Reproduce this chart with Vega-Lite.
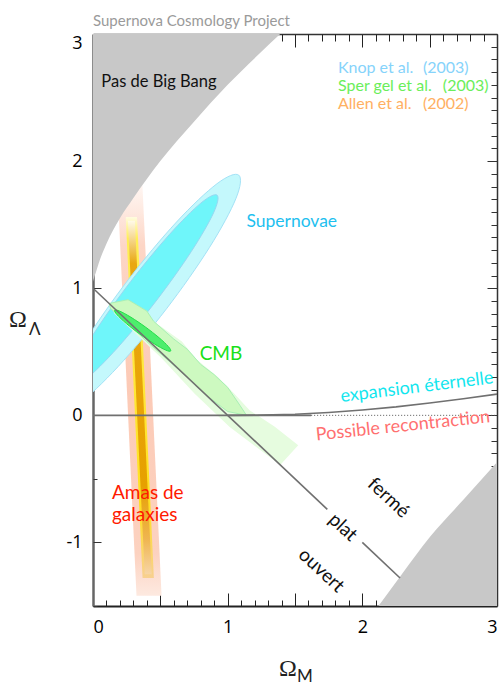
{
  "$schema": "https://vega.github.io/schema/vega-lite/v6.json",
  "width": 404,
  "height": 572,
  "autosize": {"type": "none"},
  "padding": {"left": 93, "top": 34, "right": 4, "bottom": 80},
  "background": "white",
  "title": {"text": "Supernova Cosmology Project", "anchor": "start", "frame": "group", "offset": -7, "baseline": "alphabetic", "fontSize": 15, "fontWeight": "normal", "color": "#9a9a9a", "font": "Lato"},
  "config": {"view": {"stroke": null}, "axis": {"grid": false, "title": null, "labelOverlap": false}},
  "resolve": {"axis": {"x": "independent", "y": "independent"}},
  "datasets": {
    "shapes": [
      {"s": "pink", "i": 0, "x": 0.177, "y": 1.9}, {"s": "pink", "i": 1, "x": 0.363, "y": 1.9}, {"s": "pink", "i": 2, "x": 0.509, "y": -1.42}, {"s": "pink", "i": 3, "x": 0.323, "y": -1.42},
      {"s": "yellow", "i": 0, "x": 0.243, "y": 1.56}, {"s": "yellow", "i": 1, "x": 0.327, "y": 1.56}, {"s": "yellow", "i": 2, "x": 0.452, "y": -1.28}, {"s": "yellow", "i": 3, "x": 0.368, "y": -1.28},
      {"s": "orange", "i": 0, "x": 0.259, "y": 1.53}, {"s": "orange", "i": 1, "x": 0.311, "y": 1.53}, {"s": "orange", "i": 2, "x": 0.436, "y": -1.25}, {"s": "orange", "i": 3, "x": 0.384, "y": -1.25},
      {"s": "nobb", "i": 0, "x": 0, "y": 1.05}, {"s": "nobb", "i": 1, "x": 0.01, "y": 1.09}, {"s": "nobb", "i": 2, "x": 0.02, "y": 1.12}, {"s": "nobb", "i": 3, "x": 0.05, "y": 1.22}, {"s": "nobb", "i": 4, "x": 0.1, "y": 1.35}, {"s": "nobb", "i": 5, "x": 0.2, "y": 1.55}, {"s": "nobb", "i": 6, "x": 0.3, "y": 1.71}, {"s": "nobb", "i": 7, "x": 0.4, "y": 1.86}, {"s": "nobb", "i": 8, "x": 0.5, "y": 2.0}, {"s": "nobb", "i": 9, "x": 0.75, "y": 2.31}, {"s": "nobb", "i": 10, "x": 1.0, "y": 2.6}, {"s": "nobb", "i": 11, "x": 1.25, "y": 2.86}, {"s": "nobb", "i": 12, "x": 1.39, "y": 3.0},
      {"s": "snO", "i": 0, "x": 1.0819, "y": 1.8899}, {"s": "snO", "i": 1, "x": 1.0617, "y": 1.7068}, {"s": "snO", "i": 2, "x": 0.8654, "y": 1.3217}, {"s": "snO", "i": 3, "x": 0.5453, "y": 0.8377}, {"s": "snO", "i": 4, "x": 0.1874, "y": 0.3845}, {"s": "snO", "i": 5, "x": -0.1125, "y": 0.0838}, {"s": "snO", "i": 6, "x": -0.2741, "y": 0.0157}, {"s": "snO", "i": 7, "x": -0.2539, "y": 0.1988}, {"s": "snO", "i": 8, "x": -0.0576, "y": 0.5839}, {"s": "snO", "i": 9, "x": 0.2625, "y": 1.0679}, {"s": "snO", "i": 10, "x": 0.6204, "y": 1.5211}, {"s": "snO", "i": 11, "x": 0.9203, "y": 1.8218},
      {"s": "snI", "i": 0, "x": 0.9211, "y": 1.7323}, {"s": "snI", "i": 1, "x": 0.8949, "y": 1.5926}, {"s": "snI", "i": 2, "x": 0.7293, "y": 1.2880}, {"s": "snI", "i": 3, "x": 0.4684, "y": 0.8997}, {"s": "snI", "i": 4, "x": 0.1823, "y": 0.5320}, {"s": "snI", "i": 5, "x": -0.0523, "y": 0.2834}, {"s": "snI", "i": 6, "x": -0.1727, "y": 0.2205}, {"s": "snI", "i": 7, "x": -0.1465, "y": 0.3602}, {"s": "snI", "i": 8, "x": 0.0191, "y": 0.6648}, {"s": "snI", "i": 9, "x": 0.2800, "y": 1.0531}, {"s": "snI", "i": 10, "x": 0.5661, "y": 1.4208}, {"s": "snI", "i": 11, "x": 0.8007, "y": 1.6694},
      {"s": "cmbO", "i": 0, "x": 0.12, "y": 0.88}, {"s": "cmbO", "i": 1, "x": 0.26, "y": 0.91}, {"s": "cmbO", "i": 2, "x": 0.40, "y": 0.82}, {"s": "cmbO", "i": 3, "x": 0.45, "y": 0.74}, {"s": "cmbO", "i": 4, "x": 0.66, "y": 0.58}, {"s": "cmbO", "i": 5, "x": 0.77, "y": 0.44}, {"s": "cmbO", "i": 6, "x": 0.93, "y": 0.30}, {"s": "cmbO", "i": 7, "x": 1.05, "y": 0.17}, {"s": "cmbO", "i": 8, "x": 1.163, "y": 0.04}, {"s": "cmbO", "i": 9, "x": 1.35, "y": -0.09}, {"s": "cmbO", "i": 10, "x": 1.524, "y": -0.236}, {"s": "cmbO", "i": 11, "x": 1.39, "y": -0.39}, {"s": "cmbO", "i": 12, "x": 1.2, "y": -0.24}, {"s": "cmbO", "i": 13, "x": 1.015, "y": -0.092}, {"s": "cmbO", "i": 14, "x": 0.755, "y": 0.17}, {"s": "cmbO", "i": 15, "x": 0.51, "y": 0.45}, {"s": "cmbO", "i": 16, "x": 0.31, "y": 0.65}, {"s": "cmbO", "i": 17, "x": 0.16, "y": 0.80},
      {"s": "cmbM", "i": 0, "x": 0.12, "y": 0.88}, {"s": "cmbM", "i": 1, "x": 0.26, "y": 0.91}, {"s": "cmbM", "i": 2, "x": 0.40, "y": 0.82}, {"s": "cmbM", "i": 3, "x": 0.45, "y": 0.74}, {"s": "cmbM", "i": 4, "x": 0.60, "y": 0.60}, {"s": "cmbM", "i": 5, "x": 0.70, "y": 0.52}, {"s": "cmbM", "i": 6, "x": 0.80, "y": 0.40}, {"s": "cmbM", "i": 7, "x": 0.90, "y": 0.32}, {"s": "cmbM", "i": 8, "x": 1.0, "y": 0.22}, {"s": "cmbM", "i": 9, "x": 1.09, "y": 0.08}, {"s": "cmbM", "i": 10, "x": 1.14, "y": 0.0}, {"s": "cmbM", "i": 11, "x": 1.0, "y": 0.03}, {"s": "cmbM", "i": 12, "x": 0.85, "y": 0.15}, {"s": "cmbM", "i": 13, "x": 0.7, "y": 0.30}, {"s": "cmbM", "i": 14, "x": 0.55, "y": 0.44}, {"s": "cmbM", "i": 15, "x": 0.4, "y": 0.58}, {"s": "cmbM", "i": 16, "x": 0.25, "y": 0.73}, {"s": "cmbM", "i": 17, "x": 0.13, "y": 0.84},
      {"s": "cmbI", "i": 0, "x": 0.5769, "y": 0.5063}, {"s": "cmbI", "i": 1, "x": 0.5392, "y": 0.5135}, {"s": "cmbI", "i": 2, "x": 0.4560, "y": 0.5616}, {"s": "cmbI", "i": 3, "x": 0.3494, "y": 0.6378}, {"s": "cmbI", "i": 4, "x": 0.2480, "y": 0.7218}, {"s": "cmbI", "i": 5, "x": 0.1792, "y": 0.7909}, {"s": "cmbI", "i": 6, "x": 0.1611, "y": 0.8267}, {"s": "cmbI", "i": 7, "x": 0.1988, "y": 0.8195}, {"s": "cmbI", "i": 8, "x": 0.2820, "y": 0.7714}, {"s": "cmbI", "i": 9, "x": 0.3886, "y": 0.6952}, {"s": "cmbI", "i": 10, "x": 0.4900, "y": 0.6112}, {"s": "cmbI", "i": 11, "x": 0.5588, "y": 0.5421},
      {"s": "lr", "i": 0, "x": 2.12, "y": -1.5}, {"s": "lr", "i": 1, "x": 2.3, "y": -1.24}, {"s": "lr", "i": 2, "x": 2.5, "y": -0.96}, {"s": "lr", "i": 3, "x": 2.75, "y": -0.665}, {"s": "lr", "i": 4, "x": 3.0, "y": -0.37},
      {"s": "flat1", "i": 0, "x": 0, "y": 1}, {"s": "flat1", "i": 1, "x": 1.74, "y": -0.74},
      {"s": "flat2", "i": 0, "x": 2.0, "y": -1.0}, {"s": "flat2", "i": 1, "x": 2.28, "y": -1.28},
      {"s": "hz", "i": 0, "x": 0, "y": 0}, {"s": "hz", "i": 1, "x": 1.62, "y": 0},
      {"s": "curve", "i": 0, "x": 1.0, "y": 0}, {"s": "curve", "i": 1, "x": 1.25, "y": 0.0015}, {"s": "curve", "i": 2, "x": 1.5, "y": 0.0085}, {"s": "curve", "i": 3, "x": 1.75, "y": 0.0225}, {"s": "curve", "i": 4, "x": 2.0, "y": 0.042}, {"s": "curve", "i": 5, "x": 2.25, "y": 0.0665}, {"s": "curve", "i": 6, "x": 2.5, "y": 0.097}, {"s": "curve", "i": 7, "x": 2.75, "y": 0.131}, {"s": "curve", "i": 8, "x": 3.0, "y": 0.167},
      {"s": "dot", "i": 0, "x": 1.62, "y": 0}, {"s": "dot", "i": 1, "x": 3.0, "y": 0}
    ],
    "labels": [
      {"k": "nobb", "t": "Pas de Big Bang", "x": 0.062, "y": 2.58},
      {"k": "sn", "t": "Supernovae", "x": 1.139, "y": 1.483},
      {"k": "cmb", "t": "CMB", "x": 0.792, "y": 0.433},
      {"k": "amas", "t": "Amas de\ngalaxies", "x": 0.141, "y": -0.661},
      {"k": "exp", "t": "expansion éternelle", "x": 2.405, "y": 0.218},
      {"k": "rec", "t": "Possible recontraction", "x": 2.302, "y": -0.087},
      {"k": "geo", "t": "fermé", "x": 2.195, "y": -0.648},
      {"k": "geo", "t": "plat", "x": 1.856, "y": -0.88},
      {"k": "geo", "t": "ouvert", "x": 1.696, "y": -1.22},
      {"k": "leg", "src": "Knop", "t": "Knop et al.", "x": 1.819, "y": 2.695},
      {"k": "leg", "src": "Knop", "t": "(2003)", "x": 2.45, "y": 2.695},
      {"k": "leg", "src": "Spergel", "t": "Sper gel et al.", "x": 1.819, "y": 2.551},
      {"k": "leg", "src": "Spergel", "t": "(2003)", "x": 2.598, "y": 2.551},
      {"k": "leg", "src": "Allen", "t": "Allen et al.", "x": 1.819, "y": 2.407},
      {"k": "leg", "src": "Allen", "t": "(2002)", "x": 2.45, "y": 2.407},
      {"k": "omega", "t": "Ω", "x": 1.381, "y": -2.047},
      {"k": "omega", "t": "Ω", "x": -0.624, "y": 0.695},
      {"k": "sub", "t": "M", "x": 1.514, "y": -2.100},
      {"k": "sub", "t": "Λ", "x": -0.475, "y": 0.630}
    ]
  },
  "layer": [
    {
      "data": {"name": "shapes"},
      "transform": [{"filter": "datum.s === 'pink'"}],
      "mark": {"type": "line", "filled": true, "interpolate": "linear-closed", "clip": true, "fill": {"gradient": "linear", "x1": 0, "y1": 0, "x2": 0, "y2": 1, "stops": [{"offset": 0, "color": "#fffbf9"}, {"offset": 0.08, "color": "#feebe3"}, {"offset": 0.17, "color": "#fdd6c6"}, {"offset": 0.5, "color": "#fccab6"}, {"offset": 0.9, "color": "#fcd2c0"}, {"offset": 1, "color": "#fde9e0"}]}},
      "encoding": {
        "x": {"field": "x", "type": "quantitative", "scale": {"domain": [0, 3], "nice": false, "zero": false}, "axis": {"orient": "bottom", "values": [0, 1, 2, 3], "ticks": false, "domain": true, "domainColor": "#222", "domainWidth": 2, "labelPadding": 12, "labelFlush": true, "labelFontSize": 18, "labelFont": "Open Sans", "labelColor": "#000", "title": null}},
        "y": {"field": "y", "type": "quantitative", "scale": {"domain": [-1.5, 3], "nice": false, "zero": false}, "axis": {"orient": "left", "values": [-1, 0, 1, 2, 3], "ticks": false, "domain": true, "domainColor": "#666", "domainWidth": 2.5, "labelPadding": 11, "labelFlush": true, "labelExpr": "datum.value === -1 ? '-1' : datum.label", "labelFontSize": 18, "labelFont": "Open Sans", "labelColor": "#000", "title": null}},
        "order": {"field": "i", "type": "quantitative"}
      }
    },
    {
      "data": {"name": "shapes"},
      "transform": [{"filter": "datum.s === 'yellow'"}],
      "mark": {"type": "line", "filled": true, "interpolate": "linear-closed", "clip": true, "fill": {"gradient": "linear", "x1": 0, "y1": 0, "x2": 0, "y2": 1, "stops": [{"offset": 0, "color": "#fffbe0"}, {"offset": 0.06, "color": "#ffef55"}, {"offset": 0.8, "color": "#ffe020"}, {"offset": 1, "color": "#f8d090"}]}},
      "encoding": {
        "x": {"field": "x", "type": "quantitative", "scale": {"domain": [0, 3], "nice": false, "zero": false}, "axis": {"orient": "bottom", "values": [0, 0.5, 1, 1.5, 2, 2.5, 3], "tickSize": -13, "tickColor": "#222", "tickWidth": 1, "labels": false, "domain": false, "title": null}},
        "y": {"field": "y", "type": "quantitative", "scale": {"domain": [-1.5, 3], "nice": false, "zero": false}, "axis": {"orient": "left", "values": [-1, 0, 1, 2, 3], "tickSize": -8, "tickColor": "#333", "tickWidth": 1, "labels": false, "domain": false, "title": null}},
        "order": {"field": "i", "type": "quantitative"}
      }
    },
    {
      "data": {"name": "shapes"},
      "transform": [{"filter": "datum.s === 'orange'"}],
      "mark": {"type": "line", "filled": true, "interpolate": "linear-closed", "clip": true, "fill": {"gradient": "linear", "x1": 0, "y1": 0, "x2": 0, "y2": 1, "stops": [{"offset": 0, "color": "#fffae8"}, {"offset": 0.05, "color": "#f6d890"}, {"offset": 0.12, "color": "#e9a812"}, {"offset": 0.75, "color": "#e6a000"}, {"offset": 0.9, "color": "#efb550"}, {"offset": 1, "color": "#f7d5a5"}]}},
      "encoding": {
        "x": {"field": "x", "type": "quantitative", "scale": {"domain": [0, 3], "nice": false, "zero": false}, "axis": {"orient": "bottom", "values": [0.1, 0.2, 0.3, 0.4, 0.6, 0.7, 0.8, 0.9, 1.1, 1.2, 1.3, 1.4, 1.6, 1.7, 1.8, 1.9, 2.1, 2.2, 2.3, 2.4, 2.6, 2.7, 2.8, 2.9], "tickSize": -6, "tickColor": "#222", "tickWidth": 1, "labels": false, "domain": false, "title": null}},
        "y": {"field": "y", "type": "quantitative", "scale": {"domain": [-1.5, 3], "nice": false, "zero": false}, "axis": {"orient": "left", "values": [-1.5, -0.5, 0.5, 1.5, 2.5], "tickSize": -4, "tickColor": "#333", "tickWidth": 1, "labels": false, "domain": false, "title": null}},
        "order": {"field": "i", "type": "quantitative"}
      }
    },
    {
      "data": {"name": "shapes"},
      "transform": [{"filter": "datum.s === 'nobb'"}],
      "mark": {"type": "area", "color": "#c8c8c8", "interpolate": "monotone", "clip": true},
      "encoding": {
        "x": {"field": "x", "type": "quantitative", "scale": {"domain": [0, 3], "nice": false, "zero": false}, "axis": {"orient": "top", "values": [0, 0.5, 1, 1.5, 2, 2.5, 3], "tickSize": -13, "tickColor": "#222", "tickWidth": 1, "labels": false, "domain": true, "domainColor": "#333", "domainWidth": 1.5, "title": null}},
        "y": {"field": "y", "type": "quantitative", "scale": {"domain": [-1.5, 3], "nice": false, "zero": false}, "axis": {"orient": "right", "values": [-1, 0, 1, 2, 3], "tickSize": -10, "tickColor": "#333", "tickWidth": 1, "labels": false, "domain": true, "domainColor": "#333", "domainWidth": 1.5, "title": null}},
        "y2": {"datum": 3}
      }
    },
    {
      "data": {"name": "shapes"},
      "transform": [{"filter": "datum.s === 'snO'"}],
      "mark": {"type": "line", "filled": true, "interpolate": "cardinal-closed", "clip": true, "fill": "#c4f8fc", "stroke": "#a4e2f6", "strokeWidth": 1},
      "encoding": {
        "x": {"field": "x", "type": "quantitative", "scale": {"domain": [0, 3], "nice": false, "zero": false}, "axis": {"orient": "top", "values": [0.1, 0.2, 0.3, 0.4, 0.6, 0.7, 0.8, 0.9, 1.1, 1.2, 1.3, 1.4, 1.6, 1.7, 1.8, 1.9, 2.1, 2.2, 2.3, 2.4, 2.6, 2.7, 2.8, 2.9], "tickSize": -7, "tickColor": "#222", "tickWidth": 1, "labels": false, "domain": false, "title": null}},
        "y": {"field": "y", "type": "quantitative", "scale": {"domain": [-1.5, 3], "nice": false, "zero": false}, "axis": {"orient": "right", "values": [-1.4, -1.3, -1.2, -1.1, -0.9, -0.8, -0.7, -0.6, -0.5, -0.4, -0.3, -0.2, -0.1, 0.1, 0.2, 0.3, 0.4, 0.5, 0.6, 0.7, 0.8, 0.9, 1.1, 1.2, 1.3, 1.4, 1.5, 1.6, 1.7, 1.8, 1.9, 2.1, 2.2, 2.3, 2.4, 2.5, 2.6, 2.7, 2.8, 2.9], "tickSize": -6, "tickColor": "#333", "tickWidth": 1, "labels": false, "domain": false, "title": null}},
        "order": {"field": "i", "type": "quantitative"}
      }
    },
    {
      "data": {"name": "shapes"},
      "transform": [{"filter": "datum.s === 'snI'"}],
      "mark": {"type": "line", "filled": true, "interpolate": "cardinal-closed", "clip": true, "fill": "#6ff6fa", "stroke": "#96d8f2", "strokeWidth": 1},
      "encoding": {
        "x": {"field": "x", "type": "quantitative", "scale": {"domain": [0, 3], "nice": false, "zero": false}, "axis": null},
        "y": {"field": "y", "type": "quantitative", "scale": {"domain": [-1.5, 3], "nice": false, "zero": false}, "axis": null},
        "order": {"field": "i", "type": "quantitative"}
      }
    },
    {
      "data": {"name": "shapes"},
      "transform": [{"filter": "datum.s === 'cmbO'"}],
      "mark": {"type": "line", "filled": true, "interpolate": "linear-closed", "clip": true, "fill": "#e6fcdf"},
      "encoding": {
        "x": {"field": "x", "type": "quantitative", "scale": {"domain": [0, 3], "nice": false, "zero": false}, "axis": null},
        "y": {"field": "y", "type": "quantitative", "scale": {"domain": [-1.5, 3], "nice": false, "zero": false}, "axis": null},
        "order": {"field": "i", "type": "quantitative"}
      }
    },
    {
      "data": {"name": "shapes"},
      "transform": [{"filter": "datum.s === 'cmbM'"}],
      "mark": {"type": "line", "filled": true, "interpolate": "linear-closed", "clip": true, "fill": "#cdf9c0", "stroke": "#a8f0b4", "strokeWidth": 1},
      "encoding": {
        "x": {"field": "x", "type": "quantitative", "scale": {"domain": [0, 3], "nice": false, "zero": false}, "axis": null},
        "y": {"field": "y", "type": "quantitative", "scale": {"domain": [-1.5, 3], "nice": false, "zero": false}, "axis": null},
        "order": {"field": "i", "type": "quantitative"}
      }
    },
    {
      "data": {"name": "shapes"},
      "transform": [{"filter": "datum.s === 'cmbI'"}],
      "mark": {"type": "line", "filled": true, "interpolate": "cardinal-closed", "clip": true, "fill": "#4cee6c", "stroke": "#22dd48", "strokeWidth": 1},
      "encoding": {
        "x": {"field": "x", "type": "quantitative", "scale": {"domain": [0, 3], "nice": false, "zero": false}, "axis": null},
        "y": {"field": "y", "type": "quantitative", "scale": {"domain": [-1.5, 3], "nice": false, "zero": false}, "axis": null},
        "order": {"field": "i", "type": "quantitative"}
      }
    },
    {
      "data": {"name": "shapes"},
      "transform": [{"filter": "datum.s === 'lr'"}],
      "mark": {"type": "area", "color": "#c8c8c8", "interpolate": "monotone", "clip": true},
      "encoding": {
        "x": {"field": "x", "type": "quantitative", "scale": {"domain": [0, 3], "nice": false, "zero": false}, "axis": null},
        "y": {"field": "y", "type": "quantitative", "scale": {"domain": [-1.5, 3], "nice": false, "zero": false}, "axis": null},
        "y2": {"datum": -1.5}
      }
    },
    {
      "data": {"name": "shapes"},
      "transform": [{"filter": "datum.s === 'flat1' || datum.s === 'flat2' || datum.s === 'hz' || datum.s === 'curve'"}],
      "mark": {"type": "line", "color": "#707070", "strokeWidth": 1.6, "clip": true},
      "encoding": {
        "x": {"field": "x", "type": "quantitative", "scale": {"domain": [0, 3], "nice": false, "zero": false}, "axis": null},
        "y": {"field": "y", "type": "quantitative", "scale": {"domain": [-1.5, 3], "nice": false, "zero": false}, "axis": null},
        "detail": {"field": "s", "type": "nominal"},
        "order": {"field": "i", "type": "quantitative"}
      }
    },
    {
      "data": {"name": "shapes"},
      "transform": [{"filter": "datum.s === 'dot'"}],
      "mark": {"type": "line", "color": "#555", "strokeWidth": 1, "strokeDash": [1, 2], "clip": true},
      "encoding": {
        "x": {"field": "x", "type": "quantitative", "scale": {"domain": [0, 3], "nice": false, "zero": false}, "axis": null},
        "y": {"field": "y", "type": "quantitative", "scale": {"domain": [-1.5, 3], "nice": false, "zero": false}, "axis": null},
        "order": {"field": "i", "type": "quantitative"}
      }
    },
    {
      "data": {"name": "labels"},
      "transform": [{"filter": "datum.k === 'nobb'"}],
      "mark": {"type": "text", "align": "left", "baseline": "alphabetic", "font": "Lato", "fontSize": 16.5, "color": "#111"},
      "encoding": {
        "x": {"field": "x", "type": "quantitative", "scale": {"domain": [0, 3], "nice": false, "zero": false}, "axis": null},
        "y": {"field": "y", "type": "quantitative", "scale": {"domain": [-1.5, 3], "nice": false, "zero": false}, "axis": null},
        "text": {"field": "t"}
      }
    },
    {
      "data": {"name": "labels"},
      "transform": [{"filter": "datum.k === 'sn'"}],
      "mark": {"type": "text", "align": "left", "baseline": "alphabetic", "font": "Lato", "fontSize": 17.5, "color": "#1ec0ef"},
      "encoding": {
        "x": {"field": "x", "type": "quantitative", "scale": {"domain": [0, 3], "nice": false, "zero": false}, "axis": null},
        "y": {"field": "y", "type": "quantitative", "scale": {"domain": [-1.5, 3], "nice": false, "zero": false}, "axis": null},
        "text": {"field": "t"}
      }
    },
    {
      "data": {"name": "labels"},
      "transform": [{"filter": "datum.k === 'cmb'"}],
      "mark": {"type": "text", "align": "left", "baseline": "alphabetic", "font": "Lato", "fontSize": 19, "color": "#19e019"},
      "encoding": {
        "x": {"field": "x", "type": "quantitative", "scale": {"domain": [0, 3], "nice": false, "zero": false}, "axis": null},
        "y": {"field": "y", "type": "quantitative", "scale": {"domain": [-1.5, 3], "nice": false, "zero": false}, "axis": null},
        "text": {"field": "t"}
      }
    },
    {
      "data": {"name": "labels"},
      "transform": [{"filter": "datum.k === 'amas'"}],
      "mark": {"type": "text", "align": "left", "baseline": "alphabetic", "lineBreak": "\n", "lineHeight": 22, "font": "Lato", "fontSize": 19, "color": "#ff1a00"},
      "encoding": {
        "x": {"field": "x", "type": "quantitative", "scale": {"domain": [0, 3], "nice": false, "zero": false}, "axis": null},
        "y": {"field": "y", "type": "quantitative", "scale": {"domain": [-1.5, 3], "nice": false, "zero": false}, "axis": null},
        "text": {"field": "t"}
      }
    },
    {
      "data": {"name": "labels"},
      "transform": [{"filter": "datum.k === 'exp'"}],
      "mark": {"type": "text", "align": "center", "baseline": "middle", "angle": -7, "font": "Lato", "fontSize": 18, "color": "#12e6ee"},
      "encoding": {
        "x": {"field": "x", "type": "quantitative", "scale": {"domain": [0, 3], "nice": false, "zero": false}, "axis": null},
        "y": {"field": "y", "type": "quantitative", "scale": {"domain": [-1.5, 3], "nice": false, "zero": false}, "axis": null},
        "text": {"field": "t"}
      }
    },
    {
      "data": {"name": "labels"},
      "transform": [{"filter": "datum.k === 'rec'"}],
      "mark": {"type": "text", "align": "center", "baseline": "middle", "angle": -6, "font": "Lato", "fontSize": 18, "color": "#ff7070"},
      "encoding": {
        "x": {"field": "x", "type": "quantitative", "scale": {"domain": [0, 3], "nice": false, "zero": false}, "axis": null},
        "y": {"field": "y", "type": "quantitative", "scale": {"domain": [-1.5, 3], "nice": false, "zero": false}, "axis": null},
        "text": {"field": "t"}
      }
    },
    {
      "data": {"name": "labels"},
      "transform": [{"filter": "datum.k === 'geo'"}],
      "mark": {"type": "text", "align": "center", "baseline": "middle", "angle": 43, "font": "Lato", "fontSize": 19, "color": "#111"},
      "encoding": {
        "x": {"field": "x", "type": "quantitative", "scale": {"domain": [0, 3], "nice": false, "zero": false}, "axis": null},
        "y": {"field": "y", "type": "quantitative", "scale": {"domain": [-1.5, 3], "nice": false, "zero": false}, "axis": null},
        "text": {"field": "t"}
      }
    },
    {
      "data": {"name": "labels"},
      "transform": [{"filter": "datum.k === 'leg'"}],
      "mark": {"type": "text", "align": "left", "baseline": "alphabetic", "font": "Lato", "fontSize": 16},
      "encoding": {
        "x": {"field": "x", "type": "quantitative", "scale": {"domain": [0, 3], "nice": false, "zero": false}, "axis": null},
        "y": {"field": "y", "type": "quantitative", "scale": {"domain": [-1.5, 3], "nice": false, "zero": false}, "axis": null},
        "color": {"field": "src", "type": "nominal", "scale": {"domain": ["Knop", "Spergel", "Allen"], "range": ["#86d3fb", "#6aee5a", "#ffb062"]}, "legend": null},
        "text": {"field": "t"}
      }
    },
    {
      "data": {"name": "labels"},
      "transform": [{"filter": "datum.k === 'omega'"}],
      "mark": {"type": "text", "align": "left", "baseline": "alphabetic", "font": "Liberation Serif", "fontSize": 24, "color": "#222"},
      "encoding": {
        "x": {"field": "x", "type": "quantitative", "scale": {"domain": [0, 3], "nice": false, "zero": false}, "axis": null},
        "y": {"field": "y", "type": "quantitative", "scale": {"domain": [-1.5, 3], "nice": false, "zero": false}, "axis": null},
        "text": {"field": "t"}
      }
    },
    {
      "data": {"name": "labels"},
      "transform": [{"filter": "datum.k === 'sub'"}],
      "mark": {"type": "text", "align": "left", "baseline": "alphabetic", "font": "Lato", "fontSize": 17, "color": "#222"},
      "encoding": {
        "x": {"field": "x", "type": "quantitative", "scale": {"domain": [0, 3], "nice": false, "zero": false}, "axis": null},
        "y": {"field": "y", "type": "quantitative", "scale": {"domain": [-1.5, 3], "nice": false, "zero": false}, "axis": null},
        "text": {"field": "t"}
      }
    }
  ]
}
